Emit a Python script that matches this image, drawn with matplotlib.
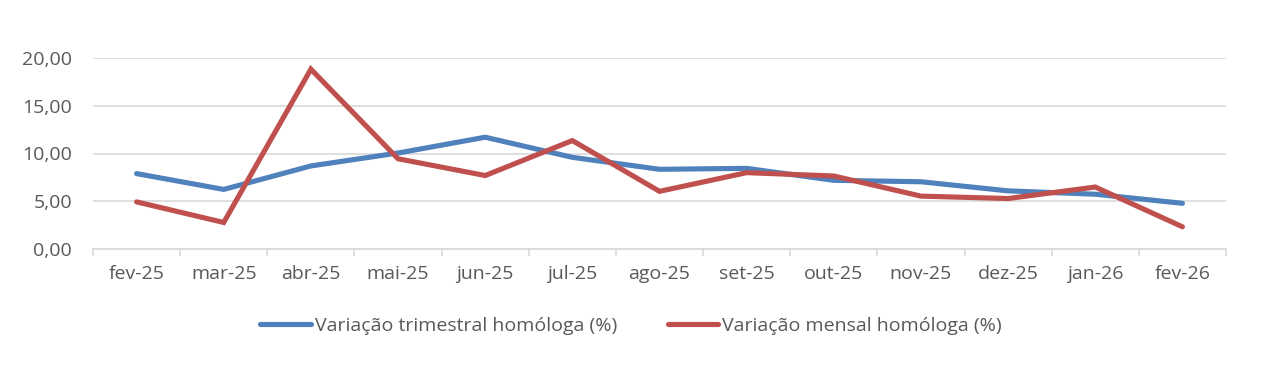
import matplotlib
matplotlib.use("Agg")
import matplotlib.pyplot as plt
from matplotlib.ticker import FixedLocator, FuncFormatter
import numpy as np

categories = ["fev-25", "mar-25", "abr-25", "mai-25", "jun-25", "jul-25", "ago-25",
              "set-25", "out-25", "nov-25", "dez-25", "jan-26", "fev-26"]
trimestral = [7.9, 6.25, 8.7, 10.05, 11.7, 9.6, 8.35, 8.45, 7.2, 7.05, 6.1, 5.75, 4.8]
mensal = [4.95, 2.8, 18.8, 9.45, 7.7, 11.35, 6.05, 8.0, 7.65, 5.55, 5.3, 6.5, 2.35]
y_ticks = [0, 5, 10, 15, 20]

plt.rcParams['font.family'] = ['Open Sans', 'DejaVu Sans']
text_color = '#595959'
grid_color = '#d9d9d9'
blue = '#4f81bd'
red = '#c0504d'

W, H = 1262, 367
fig = plt.figure(figsize=(W / 100, H / 100), dpi=100)
ax = fig.add_axes([93 / W, 1 - 249.3 / H, (1226 - 93) / W, (249.3 - 57.7) / H])

x = np.arange(len(categories))
l1, = ax.plot(x, trimestral, color=blue, lw=3.7, solid_capstyle='round', solid_joinstyle='miter',
              label='Variação trimestral homóloga (%)', zorder=3)
l2, = ax.plot(x, mensal, color=red, lw=3.7, solid_capstyle='round', solid_joinstyle='miter',
              label='Variação mensal homóloga (%)', zorder=3)

ax.set_xlim(-0.5, len(categories) - 0.5)
ax.set_ylim(0, 20)
ax.set_yticks(y_ticks)
ax.yaxis.set_major_formatter(FuncFormatter(lambda v, p: f"{v:.2f}".replace('.', ',')))
ax.set_xticks(x)
ax.set_xticklabels(categories)
ax.xaxis.set_minor_locator(FixedLocator(np.arange(-0.5, len(categories), 1.0)))

ax.grid(axis='y', color=grid_color, lw=1.2, zorder=0)
for s in ['top', 'right', 'left']:
    ax.spines[s].set_visible(False)
ax.spines['bottom'].set_color(grid_color)
ax.spines['bottom'].set_linewidth(1.2)
ax.spines['bottom'].set_zorder(1)

fs = 14
ax.tick_params(axis='y', length=0, pad=15, labelsize=fs, labelcolor=text_color)
ax.tick_params(axis='x', which='major', length=0, pad=11, labelsize=fs, labelcolor=text_color)
ax.tick_params(axis='x', which='minor', length=5, width=1.2, color=grid_color)

leg = fig.legend(handles=[l1, l2], loc='center', bbox_to_anchor=(0.5, 1 - 326 / H), ncol=2,
                 frameon=False, fontsize=fs, handlelength=2.6, handletextpad=0.2,
                 columnspacing=2.6, labelcolor=text_color)

fig.savefig('out.png', dpi=100, facecolor='white')
